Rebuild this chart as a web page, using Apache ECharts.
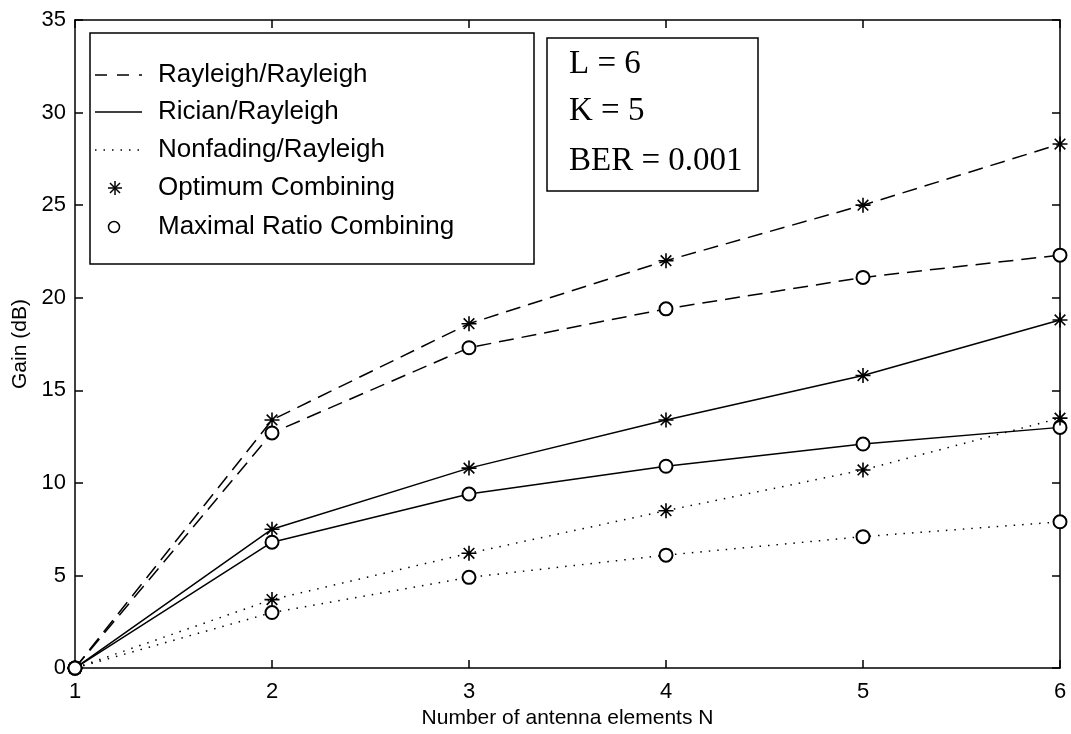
<!DOCTYPE html>
<html>
<head>
<meta charset="utf-8">
<script src="https://cdn.jsdelivr.net/npm/echarts@6/dist/echarts.min.js"></script>
<style>html,body{margin:0;padding:0;background:#fff}#c{width:1071px;height:734px}</style>
</head>
<body>
<div id="c"></div>
<script>
// Data
var nVals = [1, 2, 3, 4, 5, 6];
var xTicks = [1, 2, 3, 4, 5, 6];
var yTicks = [0, 5, 10, 15, 20, 25, 30, 35];
var rayOC  = [0, 13.4, 18.6, 22.0, 25.0, 28.3];
var rayMRC = [0, 12.7, 17.3, 19.4, 21.1, 22.3];
var ricOC  = [0, 7.5, 10.8, 13.4, 15.8, 18.8];
var ricMRC = [0, 6.8, 9.4, 10.9, 12.1, 13.0];
var nfOC   = [0, 3.7, 6.2, 8.5, 10.7, 13.5];
var nfMRC  = [0, 3.0, 4.9, 6.1, 7.1, 7.9];
var legendLabels = ['Rayleigh/Rayleigh', 'Rician/Rayleigh', 'Nonfading/Rayleigh', 'Optimum Combining', 'Maximal Ratio Combining'];
var paramLabels = ['L = 6', 'K = 5', 'BER = 0.001'];

var STAR = 'path://M0,-10L0,10M-10,0L10,0M-7.07,-7.07L7.07,7.07M-7.07,7.07L7.07,-7.07';
var DASH = [15, 8];
var DOT = [1.5, 7];

function zip(ys) { return nVals.map(function (x, i) { return [x, ys[i]]; }); }
function mk(name, ys, dash, marker) {
  var isStar = marker === 'star';
  return {
    name: name, type: 'line', data: zip(ys), clip: false,
    symbol: isStar ? STAR : 'emptyCircle',
    symbolSize: isStar ? 15 : 13,
    showSymbol: true,
    lineStyle: { color: '#000', width: 1.5, type: dash },
    itemStyle: { color: '#000', borderColor: '#000', borderWidth: 1.6 },
    emphasis: { disabled: true },
    animation: false
  };
}

var chart = echarts.init(document.getElementById('c'), null, { renderer: 'canvas' });
var fontSans = 'Liberation Sans, Arial, Helvetica, sans-serif';
var fontSerif = 'Liberation Serif, Times New Roman, serif';

var legendRowsY = [75, 112, 150, 188, 227];
function seg(x1, y1, x2, y2) {
  return { type: 'line', shape: { x1: x1, y1: y1, x2: x2, y2: y2 }, style: { stroke: '#000', lineWidth: 1.5 }, z: 101 };
}
var sx = 115, sy = legendRowsY[3];
var graphics = [
  { type: 'rect', shape: { x: 90, y: 33, width: 444, height: 231 }, style: { fill: '#fff', stroke: '#000', lineWidth: 1.5 }, z: 100 },
  { type: 'line', shape: { x1: 95, y1: legendRowsY[0], x2: 142, y2: legendRowsY[0] }, style: { stroke: '#000', lineWidth: 1.5, lineDash: [12, 10] }, z: 101 },
  { type: 'line', shape: { x1: 95, y1: legendRowsY[1], x2: 142, y2: legendRowsY[1] }, style: { stroke: '#000', lineWidth: 1.5 }, z: 101 },
  { type: 'line', shape: { x1: 95, y1: legendRowsY[2], x2: 142, y2: legendRowsY[2] }, style: { stroke: '#000', lineWidth: 1.5, lineDash: [1.5, 7] }, z: 101 },
  seg(sx, sy - 7, sx, sy + 7), seg(sx - 7, sy, sx + 7, sy), seg(sx - 5, sy - 5, sx + 5, sy + 5), seg(sx - 5, sy + 5, sx + 5, sy - 5),
  { type: 'circle', shape: { cx: 114, cy: legendRowsY[4], r: 5.5 }, style: { stroke: '#000', lineWidth: 1.5, fill: '#fff' }, z: 101 },
  { type: 'rect', shape: { x: 547, y: 38, width: 211, height: 153 }, style: { fill: '#fff', stroke: '#000', lineWidth: 1.5 }, z: 100 }
];
legendLabels.forEach(function (t, i) {
  graphics.push({ type: 'text', x: 158, y: legendRowsY[i], style: { text: t, font: '26px ' + fontSans, fill: '#000', verticalAlign: 'middle' }, z: 101 });
});
var paramBase = [81, 128, 178];
paramLabels.forEach(function (t, i) {
  graphics.push({ type: 'text', x: 569, y: paramBase[i], style: { text: t, font: '33px ' + fontSerif, fill: '#000', verticalAlign: 'bottom' }, z: 101 });
});

var tickStyle = { show: true, inside: true, length: 8, lineStyle: { color: '#000', width: 1.5 } };
var axisLine = { show: true, onZero: false, lineStyle: { color: '#000', width: 1.5 } };

chart.setOption({
  backgroundColor: '#fff',
  animation: false,
  grid: { left: 75, right: 11, top: 20, bottom: 58, containLabel: false },
  xAxis: [
    { type: 'value', min: 1, max: 6, interval: 1, position: 'bottom',
      axisLine: axisLine, axisTick: tickStyle, splitLine: { show: false },
      axisLabel: { color: '#000', fontSize: 22, fontFamily: fontSans, margin: 13 },
      name: 'Number of antenna elements N', nameLocation: 'middle', nameGap: 38,
      nameTextStyle: { color: '#000', fontSize: 21, fontFamily: fontSans } },
    { type: 'value', min: 1, max: 6, interval: 1, position: 'top',
      axisLine: axisLine, axisTick: tickStyle, splitLine: { show: false }, axisLabel: { show: false } }
  ],
  yAxis: [
    { type: 'value', min: 0, max: 35, interval: 5, position: 'left',
      axisLine: axisLine, axisTick: tickStyle, splitLine: { show: false },
      axisLabel: { color: '#000', fontSize: 22, fontFamily: fontSans, margin: 9 },
      name: 'Gain (dB)', nameLocation: 'middle', nameGap: 40, nameRotate: 90,
      nameTextStyle: { color: '#000', fontSize: 21, fontFamily: fontSans } },
    { type: 'value', min: 0, max: 35, interval: 5, position: 'right',
      axisLine: axisLine, axisTick: tickStyle, splitLine: { show: false }, axisLabel: { show: false } }
  ],
  series: [
    mk('Rayleigh OC', rayOC, DASH, 'star'),
    mk('Rayleigh MRC', rayMRC, DASH, 'circle'),
    mk('Rician OC', ricOC, 'solid', 'star'),
    mk('Rician MRC', ricMRC, 'solid', 'circle'),
    mk('Nonfading OC', nfOC, DOT, 'star'),
    mk('Nonfading MRC', nfMRC, DOT, 'circle')
  ],
  graphic: graphics
});
</script>
</body>
</html>
